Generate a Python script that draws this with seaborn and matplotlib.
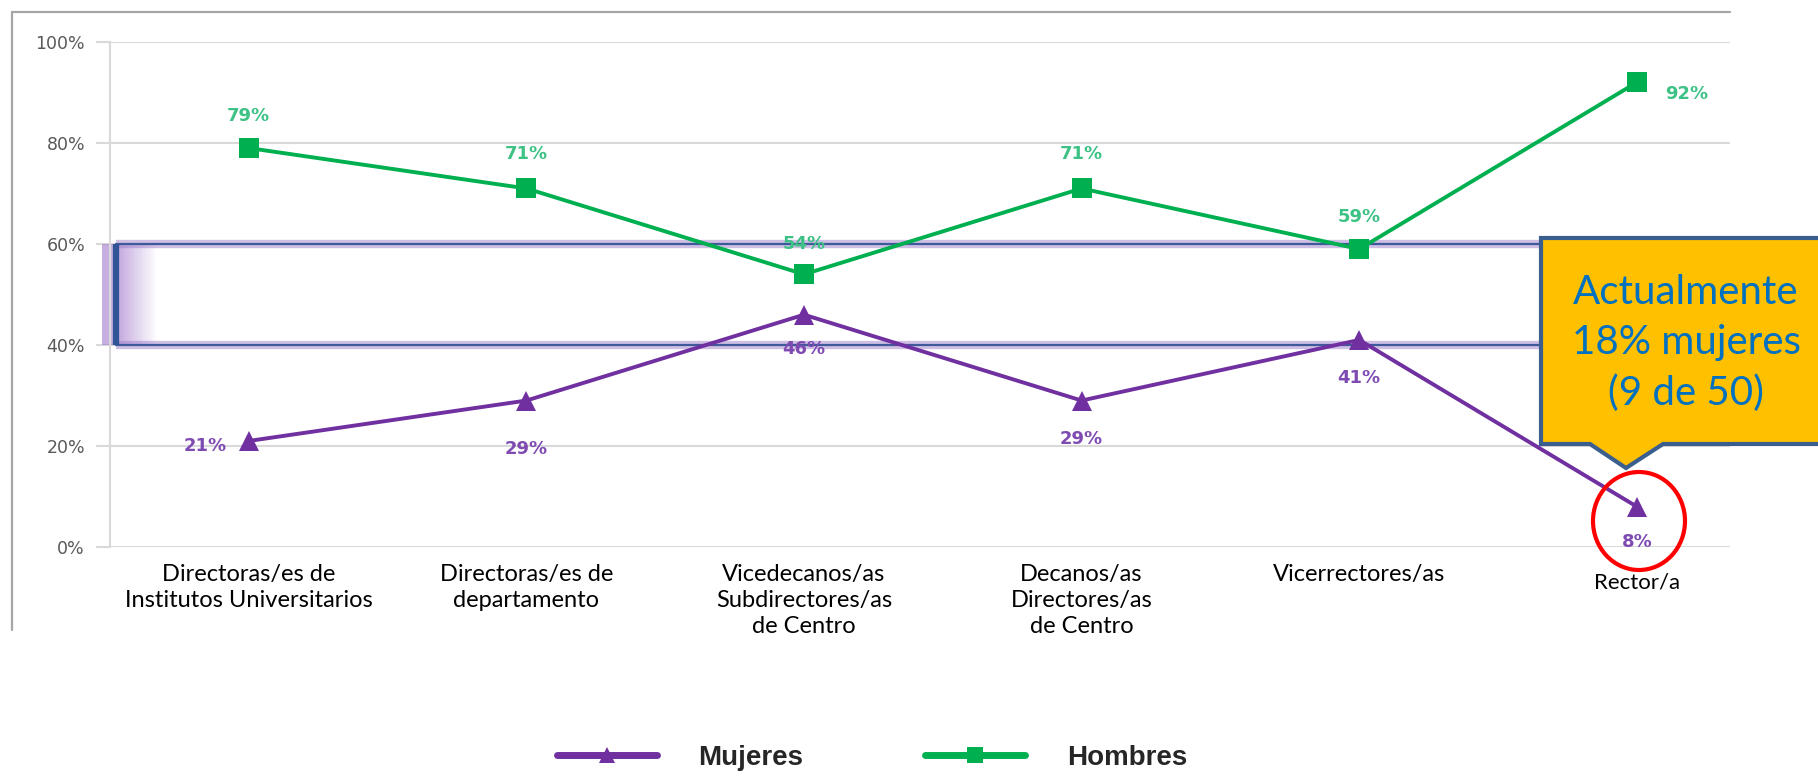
import numpy as np
import pandas as pd
import matplotlib
matplotlib.use('Agg')
import matplotlib.pyplot as plt
import seaborn as sns
from matplotlib.patches import Rectangle, Polygon, Ellipse
from matplotlib.lines import Line2D
from matplotlib.transforms import ScaledTranslation

# Datos
categorias = [
    'Directoras/es de\nInstitutos Universitarios',
    'Directoras/es de\ndepartamento',
    'Vicedecanos/as\nSubdirectores/as\nde Centro',
    'Decanos/as\nDirectores/as\nde Centro',
    'Vicerrectores/as',
    'Rector/a',
]
mujeres = [0.21, 0.29, 0.46, 0.29, 0.41, 0.08]
hombres = [0.79, 0.71, 0.54, 0.71, 0.59, 0.92]
ticks_y = [0, 0.2, 0.4, 0.6, 0.8, 1.0]
texto_nota = 'Actualmente\n18% mujeres\n(9 de 50)'

MORADO = '#7030A0'
VERDE = '#00B050'

W, H = 1818, 777

sns.set_style('white')
plt.rcParams['font.family'] = ['DejaVu Sans']

fig = plt.figure(figsize=(W / 100, H / 100), dpi=100)
ax = fig.add_axes([110 / W, 1 - 547 / H, (1730 - 110) / W, (547 - 42) / H])

df = pd.DataFrame({
    'pos': list(range(len(categorias))) * 2,
    'valor': mujeres + hombres,
    'sexo': ['Mujeres'] * len(mujeres) + ['Hombres'] * len(hombres),
})

sns.lineplot(data=df, x='pos', y='valor', hue='sexo', style='sexo',
             palette={'Mujeres': MORADO, 'Hombres': VERDE},
             markers={'Mujeres': '^', 'Hombres': 's'}, dashes=False,
             linewidth=2.8, markersize=15, markeredgewidth=0,
             legend=False, ax=ax, zorder=5)

px = 277.6  # pixeles por categoria
ax.set_xlim(-0.5, -0.5 + 1620 / px)
ax.set_ylim(0, 1)
ax.set_xlabel('')
ax.set_ylabel('')

# ejes y rejilla
ax.set_yticks(ticks_y)
ax.set_yticklabels([f'{int(round(t * 100))}%' for t in ticks_y], fontsize=12.5, color='#595959')
ax.yaxis.grid(True, color='#D9D9D9', linewidth=1.5)
ax.tick_params(axis='y', length=10, width=1.5, color='#D9D9D9', pad=8, left=True)
for s in ['top', 'right', 'bottom']:
    ax.spines[s].set_visible(False)
ax.spines['left'].set_color('#D9D9D9')
ax.spines['left'].set_linewidth(1.5)

ax.set_xticks(range(len(categorias)))
ax.set_xticklabels(categorias, family=['Lato', 'DejaVu Sans'], fontsize=17, color='black', linespacing=1.3)
ax.tick_params(axis='x', length=0, pad=12)
lab = ax.get_xticklabels()[-1]
lab.set_fontsize(16)
lab.set_transform(lab.get_transform() + ScaledTranslation(0, -9 / 100, fig.dpi_scale_trans))

# etiquetas de datos
off_h = [(0, 32), (0, 34), (0, 30), (0, 34), (0, 32), (50, -12)]
off_m = [(-44, -5), (0, -48), (0, -34), (0, -38), (0, -38), (0, -35)]
for i, v in enumerate(hombres):
    ax.annotate(f'{int(round(v * 100))}%', (i, v), xytext=off_h[i], textcoords='offset pixels',
                ha='center', va='center', fontsize=13, fontweight='bold', color='#3CC284',
                zorder=6, annotation_clip=False)
for i, v in enumerate(mujeres):
    ax.annotate(f'{int(round(v * 100))}%', (i, v), xytext=off_m[i], textcoords='offset pixels',
                ha='center', va='center', fontsize=13, fontweight='bold', color='#7F4BB3',
                zorder=6, annotation_clip=False)

# recuadro 40%-60%
x0 = -0.5 + 6 / px
x1 = 5.2
for y in [0.4, 0.6]:
    ax.plot([x0, x1], [y, y], color='#A080CC', lw=6, alpha=0.5, solid_capstyle='butt', zorder=3)
    ax.plot([x0, x1], [y, y], color='#3F5A9A', lw=1.6, zorder=3)
n = 30
for k in range(n):
    d = -14 + k * 54 / n  # pixeles desde la linea azul
    xa = x0 + d / px
    if d < 0:
        a = 0.55
    else:
        a = 0.6 * max(0, 1 - d / 40)
    ax.add_patch(Rectangle((xa, 0.4), 54 / px / n, 0.2, color='#9A6CC8', alpha=a,
                           lw=0, zorder=2, clip_on=False))
ax.plot([x0, x0], [0.4, 0.6], color='#2F5597', lw=4.5, solid_capstyle='butt', zorder=4)


def fx(x):
    return x / W


def fy(y):
    return 1 - y / H


# marco del grafico
fig.add_artist(Line2D([fx(12), fx(12)], [fy(12), fy(630)], color='#A6A6A6', lw=1.6))
fig.add_artist(Line2D([fx(12), fx(1730)], [fy(12), fy(12)], color='#A6A6A6', lw=1.6))

# nota
pts = [(1541, 238), (1822, 238), (1822, 444), (1663, 444), (1626, 468), (1590, 444), (1541, 444)]
fig.add_artist(Polygon([(fx(x), fy(y)) for x, y in pts], closed=True, facecolor='#FFC000',
                       edgecolor='#3A5F8E', lw=3, transform=fig.transFigure, zorder=10))
fig.text(fx(1686), fy(343), texto_nota, ha='center', va='center', color='#0070C0',
         family=['Lato', 'DejaVu Sans'], fontsize=29, linespacing=1.42, zorder=11)
fig.add_artist(Ellipse((fx(1639), fy(521)), fx(92), 98 / H, fill=False, edgecolor='#FF0000',
                       lw=3, transform=fig.transFigure, zorder=11))

# leyenda
handles = [Line2D([], [], color=MORADO, lw=5, marker='^', markersize=11, markeredgewidth=0),
           Line2D([], [], color=VERDE, lw=5, marker='s', markersize=11, markeredgewidth=0)]
fig.legend(handles, ['Mujeres', 'Hombres'], loc='center', bbox_to_anchor=(fx(872), fy(758)),
           ncol=2, frameon=False, handlelength=3.6, handletextpad=1.5, columnspacing=4.4,
           prop={'family': ['Liberation Sans Narrow', 'Liberation Sans'], 'weight': 'bold', 'size': 20})

fig.savefig('out.png', dpi=100, facecolor='white')
